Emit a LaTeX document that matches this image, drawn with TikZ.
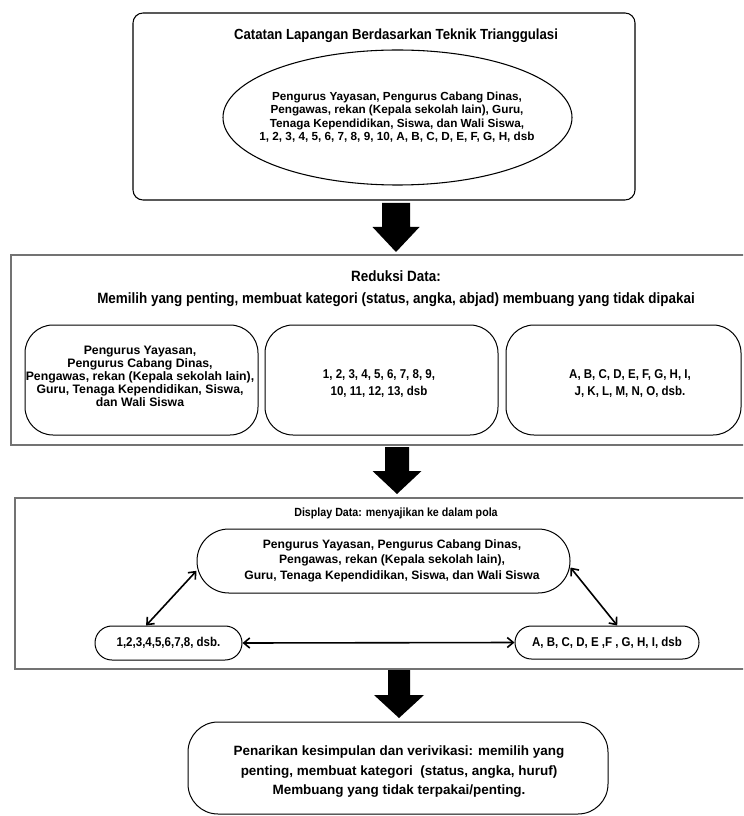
\documentclass[tikz,border=0pt]{standalone}
\usepackage{fontspec}
\setmainfont{Liberation Sans}
\newfontfamily\narrowfont{Liberation Sans}[FakeStretch=0.9]
\usetikzlibrary{shapes.geometric,arrows.meta}
\begin{document}
\begin{tikzpicture}[x=0.75pt,y=-0.75pt,
  box/.style={draw=black, line width=0.8pt, inner sep=0pt, rectangle},
  frame/.style={draw=black!55, line width=1.1pt, inner sep=0pt, rectangle},
  rt/.style 2 args={inner sep=0pt, align=center, font=\bfseries\fontsize{#1}{#2}\selectfont},
  nt/.style 2 args={inner sep=0pt, align=center, font=\narrowfont\bfseries\fontsize{#1}{#2}\selectfont},
  conn/.style={{Straight Barb[length=4.5pt,width=7.5pt]}-{Straight Barb[length=4.5pt,width=7.5pt]}, line width=1.2pt},
  pics/blockarrow/.style args={#1/#2/#3/#4}{code={
    \fill[black] (-#1,0) -- (#1,0) -- (#1,#3) -- (#2,#3) -- (0,#4) -- (-#2,#3) -- (-#1,#3) -- cycle;}}
]
\useasboundingbox (0,0) rectangle (743,816);
\fill[white] (0,0) rectangle (743,816);
\clip (0,0) rectangle (743,816);

% ---- top block
\node[box, rounded corners=7.5pt, minimum width=376.5pt, minimum height=140.25pt] (topbox) at (384,106.5) {};
\node[nt={11}{13}] (title) at (396,36) {Catatan Lapangan Berdasarkan Teknik Trianggulasi};
\node[draw, ellipse, line width=0.8pt, minimum width=261.75pt, minimum height=101.25pt, inner sep=0pt] (ell) at (397.5,117.5) {};
\node[rt={8.8}{10}] (elltext) at (397,117) {Pengurus Yayasan, Pengurus Cabang Dinas,\\Pengawas, rekan (Kepala sekolah lain), Guru,\\Tenaga Kependidikan, Siswa, dan Wali Siswa,\\1, 2, 3, 4, 5, 6, 7, 8, 9, 10, A, B, C, D, E, F, G, H, dsb};

\pic at (396,203) {blockarrow={14/23.5/24/49}};

% ---- reduksi block
\node[frame, minimum width=558pt, minimum height=142.5pt] (redbox) at (383,350) {};
\node[nt={11.2}{13}] (redtitle) at (396,276) {Reduksi Data:};
\node[nt={11.2}{13}] (redsub) at (396,300) {Memilih yang penting, membuat kategori (status, angka, abjad) membuang yang tidak dipakai};

\node[box, line width=0.75pt, rounded corners=21pt, minimum width=174.75pt, minimum height=82.5pt] (box1) at (141.5,380) {};
\node[rt={9.2}{9.75}] (box1text) at (140,376.5) {Pengurus Yayasan,\\Pengurus Cabang Dinas,\\Pengawas, rekan (Kepala sekolah lain),\\Guru, Tenaga Kependidikan, Siswa,\\dan Wali Siswa};

\node[box, line width=0.75pt, rounded corners=21pt, minimum width=174.75pt, minimum height=82.5pt] (box2) at (381.5,380) {};
\node[nt={9.6}{12.5}] (box2text) at (379,383.5) {1, 2, 3, 4, 5, 6, 7, 8, 9,\\10, 11, 12, 13, dsb};

\node[box, line width=0.75pt, rounded corners=21pt, minimum width=176.25pt, minimum height=82.5pt] (box3) at (623.5,380) {};
\node[nt={9.6}{12.5}] (box3text) at (630,383.5) {A, B, C, D, E, F, G, H, I,\\J, K, L, M, N, O, dsb.};

\pic at (397,447) {blockarrow={12/24.5/24/47}};

% ---- display block
\node[frame, minimum width=555pt, minimum height=128.25pt] (dispbox) at (385,583.5) {};
\node[nt={8.9}{10}] (disptitle) at (396,513) {Display Data: menyajikan ke dalam pola};

\node[box, line width=0.75pt, rounded corners=23.9pt, minimum width=279.75pt, minimum height=48pt] (topnode) at (383.5,561) {};
\node[rt={9.1}{11.6}] (topnodetext) at (392,560.5) {Pengurus Yayasan, Pengurus Cabang Dinas,\\Pengawas, rekan (Kepala sekolah lain),\\Guru, Tenaga Kependidikan, Siswa, dan Wali Siswa};

\node[box, line width=0.75pt, rounded corners=12.7pt, minimum width=110.25pt, minimum height=25.5pt, nt={9.6}{11}] (lnode) at (168.5,643) {1,2,3,4,5,6,7,8, dsb.};
\node[box, line width=0.75pt, rounded corners=12.3pt, minimum width=138pt, minimum height=24.75pt, nt={9.6}{11}] (rnode) at (607,642.5) {A, B, C, D, E ,F , G, H, I, dsb};

\draw[conn] (lnode.142) -- (topnode.183);
\draw[conn] (topnode.358) -- (rnode.59);
\draw[conn] (lnode.east) -- (rnode.west);

\pic at (399,670) {blockarrow={11/25/25/48}};

% ---- conclusion
\node[box, line width=0.75pt, rounded corners=22.5pt, minimum width=315pt, minimum height=69pt] (botbox) at (398,768) {};
\node[rt={10.1}{14.6}] (bottext) at (399,772) {Penarikan kesimpulan dan verivikasi: memilih yang\\penting, membuat kategori~ (status, angka, huruf)\\Membuang yang tidak terpakai/penting.};
\end{tikzpicture}
\end{document}
